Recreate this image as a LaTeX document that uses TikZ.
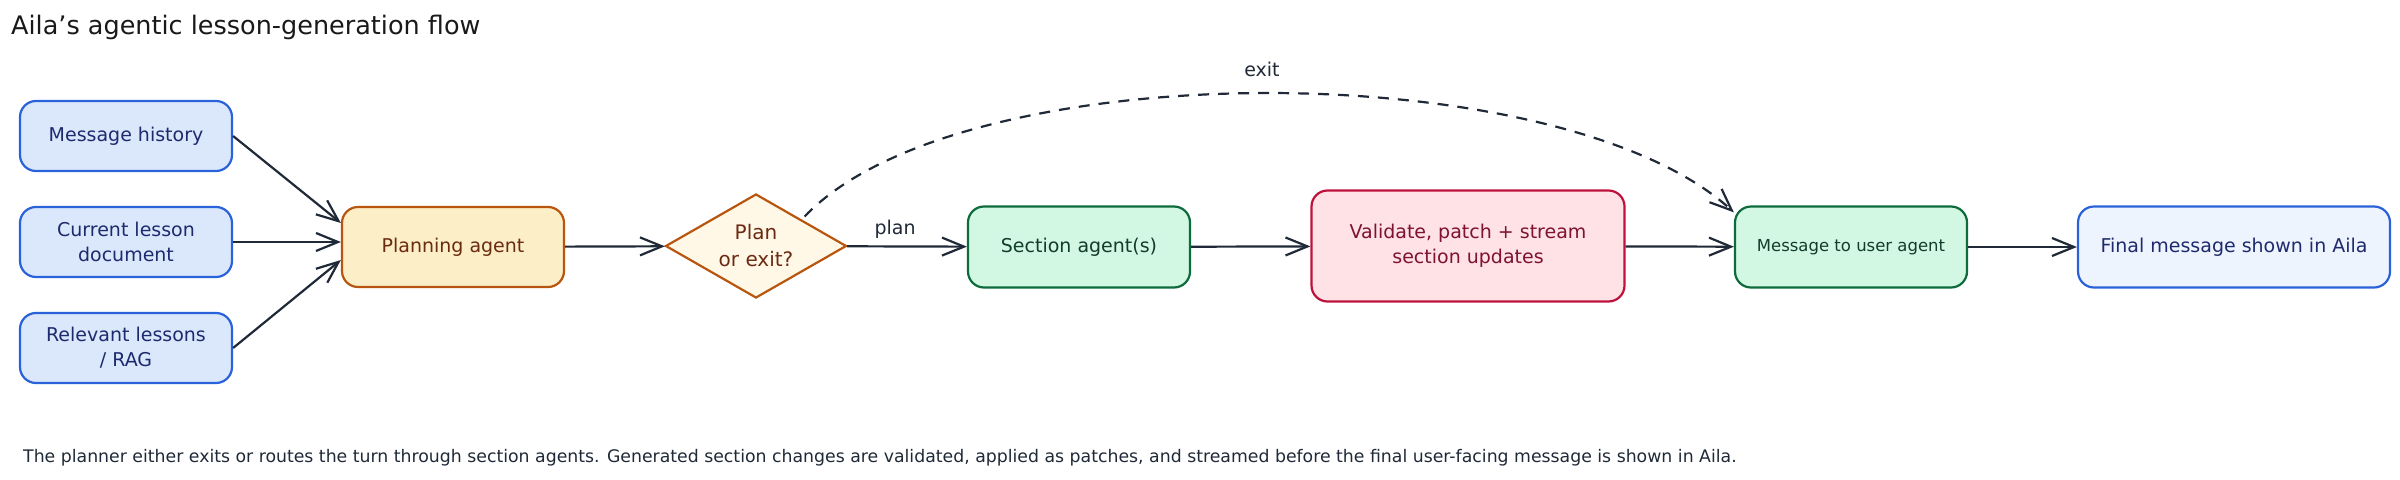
\documentclass[tikz,border=0pt]{standalone}
\usepackage{fontspec}
\setmainfont{DejaVu Sans}
\usetikzlibrary{shapes.geometric,arrows.meta}
\definecolor{ink}{HTML}{1F2937}
\definecolor{inblue}{HTML}{2A62D9}
\definecolor{inbluefill}{HTML}{DBE8FB}
\definecolor{inbluetext}{HTML}{1E2A6E}
\definecolor{finfill}{HTML}{EEF4FD}
\definecolor{planstroke}{HTML}{B8560F}
\definecolor{planfill}{HTML}{FCEFC7}
\definecolor{choicefill}{HTML}{FFF8E7}
\definecolor{plantext}{HTML}{6B2A12}
\definecolor{agentstroke}{HTML}{0E6B3B}
\definecolor{agentfill}{HTML}{D2F8E4}
\definecolor{agenttext}{HTML}{123D2A}
\definecolor{valstroke}{HTML}{BE123C}
\definecolor{valfill}{HTML}{FEE2E5}
\definecolor{valtext}{HTML}{7F1232}
\begin{document}
\begin{tikzpicture}[x=1pt, y=-1pt,
    >={Straight Barb[length=22pt,width=18pt]},
    box/.style={draw, rounded corners=16pt, line width=2.2pt, align=center,
        inner sep=0pt, font=\fontsize{19}{25}\selectfont},
    inbox/.style={box, draw=inblue, fill=inbluefill, text=inbluetext,
        minimum width=212pt, minimum height=70pt},
    agentbox/.style={box, draw=agentstroke, fill=agentfill, text=agenttext,
        minimum height=81pt},
    flow/.style={->, draw=ink, line width=2.2pt},
    tag/.style={text=ink, inner sep=2pt, font=\fontsize{19}{23}\selectfont}]
    \useasboundingbox (0,0) rectangle (2400,479);
    % Tiêu đề
    \node[anchor=base west, inner sep=0pt, text=black!90,
        font=\fontsize{25.5}{30}\selectfont] (title) at (11,34)
        {Aila's agentic lesson-generation flow};

    % Các nguồn đầu vào
    \node[inbox] (hist) at (126,136) {Message history};
    \node[inbox] (cur) at (126,242) {Current lesson\\document};
    \node[inbox] (rag) at (126,348) {Relevant lessons\\/ RAG};

    % Các bước xử lý
    \node[box, draw=planstroke, fill=planfill, text=plantext,
        minimum width=222pt, minimum height=80pt] (planner) at (453,247) {Planning agent};
    \node[diamond, draw=planstroke, fill=choicefill, text=plantext, line width=2.2pt,
        aspect=1.74, minimum width=181pt, minimum height=104pt, inner sep=0pt,
        align=center, font=\fontsize{20}{27}\selectfont] (choice) at (756,246) {Plan\\or exit?};
    \node[agentbox, minimum width=222pt] (section) at (1079,247) {Section agent(s)};
    \node[box, draw=valstroke, fill=valfill, text=valtext,
        minimum width=313pt, minimum height=111pt] (check) at (1468,246)
        {Validate, patch + stream\\section updates};
    \node[agentbox, minimum width=232pt, font=\fontsize{16.5}{20}\selectfont] (msg) at (1851,247)
        {Message to user agent};
    \node[box, draw=inblue, fill=finfill, text=inbluetext,
        minimum width=312pt, minimum height=81pt] (final) at (2234,247)
        {Final message shown in Aila};

    % Mũi tên
    \draw[flow] (hist.east) -- ([yshift=24pt]planner.west);
    \draw[flow] (cur.east) -- (cur.east -| planner.west);
    \draw[flow] (rag.east) -- ([yshift=-13pt]planner.west);
    \draw[flow] (planner) -- (choice);
    \draw[flow] (choice) -- node[tag, above=5pt, pos=0.4] {plan} (section);
    \draw[flow] (section) -- (check);
    \draw[flow] (check) -- (msg);
    \draw[flow] (msg) -- (final);
    \draw[flow, dash pattern=on 11pt off 9pt, shorten <=4pt]
        (choice.north east) .. controls (960,53) and (1560,53) ..
        node[tag, midway, above=14pt] {exit} ([yshift=-7pt]msg.north west);

    % Chú thích
    \node[anchor=base west, inner sep=0pt, text=ink,
        font=\fontsize{17.3}{21}\selectfont] (note) at (23,462)
        {The planner either exits or routes the turn through section agents. Generated section changes are validated, applied as patches, and streamed before the final user-facing message is shown in Aila.};
\end{tikzpicture}
\end{document}
